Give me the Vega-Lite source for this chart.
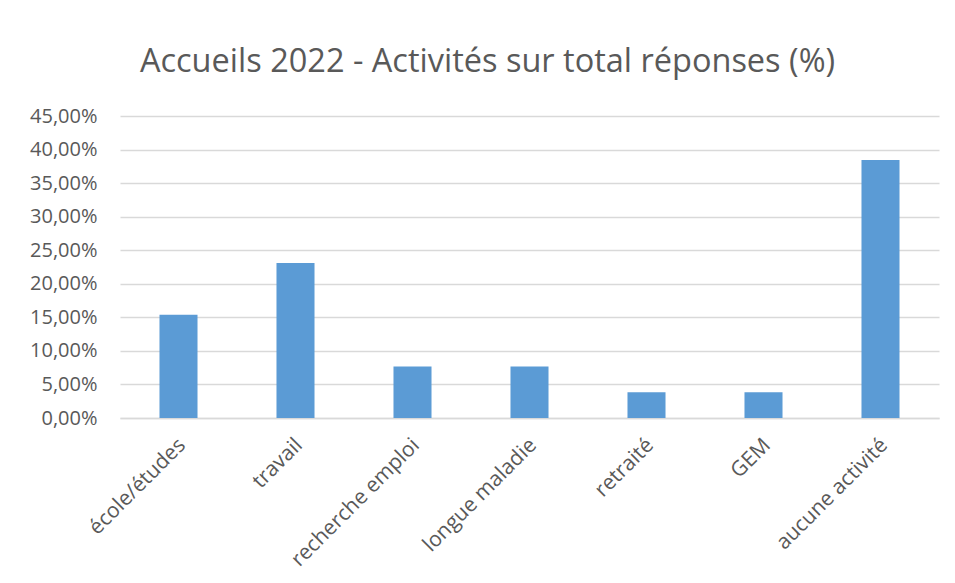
{
  "$schema": "https://vega.github.io/schema/vega-lite/v6.json",
  "width": 819,
  "height": 302,
  "autosize": {"type": "none"},
  "padding": {"left": 120, "top": 116, "right": 16, "bottom": 165},
  "background": "white",
  "config": {
    "locale": {"number": {"decimal": ",", "thousands": " ", "grouping": [3], "currency": ["", " €"]}},
    "view": {"stroke": null},
    "font": "Open Sans"
  },
  "title": {
    "text": "Accueils 2022 - Activités sur total réponses (%)",
    "fontSize": 32.5,
    "fontWeight": "normal",
    "color": "#595959",
    "font": "Open Sans",
    "anchor": "middle",
    "dx": -42,
    "offset": 28
  },
  "data": {
    "values": [
      {"activite": "école/études", "part": 0.1538},
      {"activite": "travail", "part": 0.2308},
      {"activite": "recherche emploi", "part": 0.0769},
      {"activite": "longue maladie", "part": 0.0769},
      {"activite": "retraité", "part": 0.0385},
      {"activite": "GEM", "part": 0.0385},
      {"activite": "aucune activité", "part": 0.3846}
    ]
  },
  "mark": {"type": "bar", "color": "#5b9bd5"},
  "encoding": {
    "x": {
      "field": "activite",
      "type": "nominal",
      "sort": null,
      "scale": {"paddingInner": 0.675, "paddingOuter": 0.3375},
      "axis": {
        "title": null,
        "labelAngle": -45,
        "labelAlign": "right",
        "labelBaseline": "top",
        "labelFontSize": 21,
        "labelColor": "#595959",
        "labelPadding": 16,
        "labelOffset": -4,
        "ticks": false,
        "domainColor": "#d9d9d9",
        "domainWidth": 1.5
      }
    },
    "y": {
      "field": "part",
      "type": "quantitative",
      "scale": {"domain": [0, 0.45]},
      "axis": {
        "title": null,
        "values": [0, 0.05, 0.1, 0.15, 0.2, 0.25, 0.3, 0.35, 0.4, 0.45],
        "format": ".2%",
        "labelFontSize": 20,
        "labelColor": "#595959",
        "labelPadding": 23,
        "ticks": false,
        "domain": false,
        "gridColor": "#d9d9d9",
        "gridWidth": 1.5
      }
    }
  }
}
